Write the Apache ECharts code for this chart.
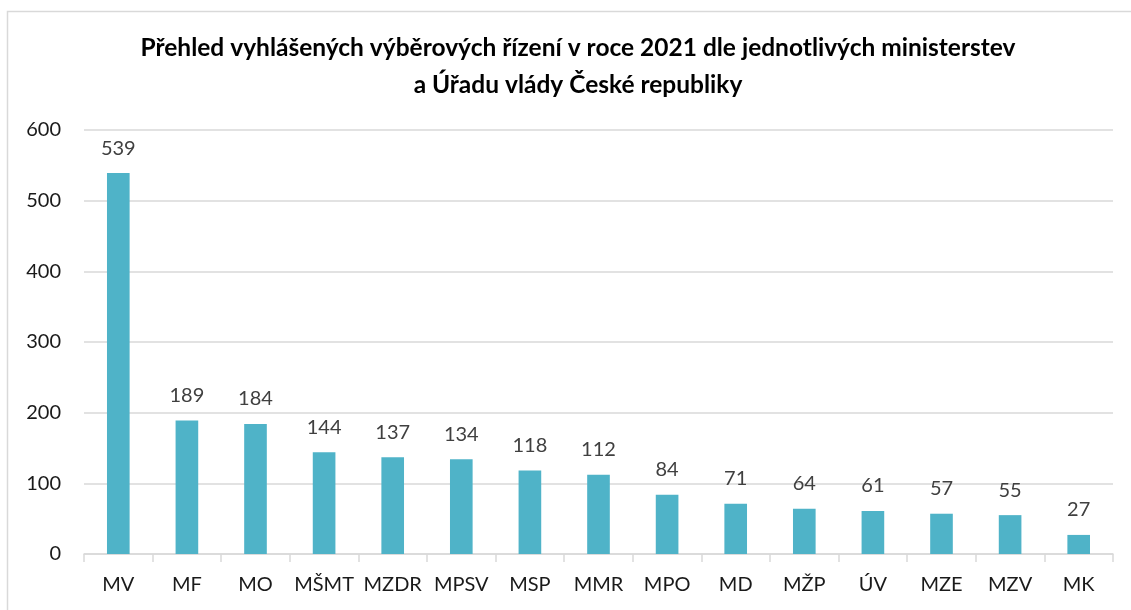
<!DOCTYPE html>
<html>
<head>
<meta charset="utf-8">
<script src="https://cdn.jsdelivr.net/npm/echarts@6/dist/echarts.min.js"></script>
<style>
html,body{margin:0;padding:0;background:#fff;}
#chart{width:1131px;height:610px;}
</style>
</head>
<body>
<div id="chart"></div>
<script>
const categories = ['MV','MF','MO','MŠMT','MZDR','MPSV','MSP','MMR','MPO','MD','MŽP','ÚV','MZE','MZV','MK'];
const values = [539,189,184,144,137,134,118,112,84,71,64,61,57,55,27];
const titleLines = ['Přehled vyhlášených výběrových řízení v roce 2021 dle jednotlivých ministerstev','a Úřadu vlády České republiky'];

const FONT = 'Lato, "Open Sans", sans-serif';
const chart = echarts.init(document.getElementById('chart'), null, {renderer:'canvas'});
chart.setOption({
  backgroundColor:'#fff',
  animation:false,
  title:{
    text: titleLines.join('\n'),
    left: 573, top: 25, textAlign:'center',
    textStyle:{fontFamily:FONT, fontWeight:'bold', fontSize:24.5, lineHeight:37, color:'#000'}
  },
  graphic:[{
    type:'rect', shape:{x:7.5,y:11.5,width:1140,height:620},
    style:{fill:'none', stroke:'#d9d9d9', lineWidth:1.5}, silent:true
  }],
  grid:{left:84, right:18, top:130, bottom:56, containLabel:false},
  xAxis:{
    type:'category', data:categories,
    axisLine:{lineStyle:{color:'#d9d9d9', width:1.5}},
    axisTick:{show:true, length:8, lineStyle:{color:'#d9d9d9', width:1.5}},
    axisLabel:{interval:0, color:'#1a1a1a', fontSize:20, margin:21, fontFamily:FONT}
  },
  yAxis:{
    type:'value', min:0, max:600, interval:100,
    axisLine:{show:false}, axisTick:{show:false},
    splitLine:{lineStyle:{color:'#d9d9d9', width:1.5}},
    axisLabel:{color:'#1a1a1a', fontSize:20, margin:23, fontFamily:FONT}
  },
  series:[{
    type:'bar', data:values, barWidth:'33%',
    itemStyle:{color:'#4FB3C8'},
    label:{show:true, position:'top', distance:15, color:'#404040', fontSize:20, fontFamily:FONT}
  }]
});
</script>
</body>
</html>
